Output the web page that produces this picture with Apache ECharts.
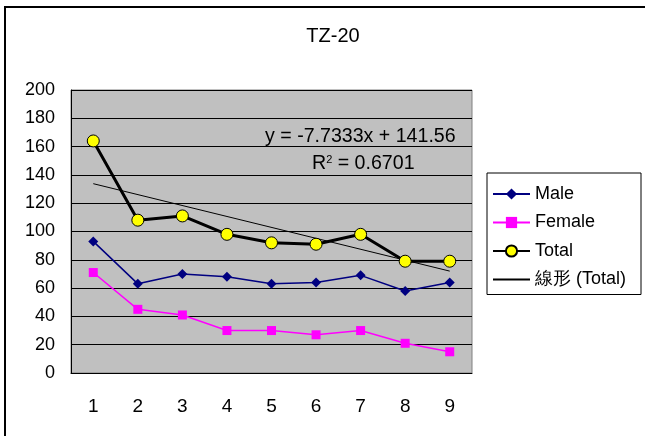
<!DOCTYPE html>
<html>
<head>
<meta charset="utf-8">
<script src="https://cdn.jsdelivr.net/npm/echarts@6/dist/echarts.min.js"></script>
<style>
  html, body { margin: 0; padding: 0; background: #fff; overflow: hidden; }
  #wrap { position: relative; width: 645px; height: 436px; overflow: hidden; }
  #frame { position: absolute; left: 4px; top: 6px; width: 700px; height: 500px; border: 2px solid #000; }
  #main { position: absolute; left: 0; top: 0; width: 645px; height: 436px; }
</style>
</head>
<body>
<div id="wrap">
  <div id="frame"></div>
  <div id="main"></div>
</div>
<script>
// values
const categories = ['1', '2', '3', '4', '5', '6', '7', '8', '9'];
const male = [93, 63, 70, 68, 63, 64, 69, 58, 64];
const female = [71, 45, 41, 30, 30, 27, 30, 21, 15];
const total = [164, 108, 111, 98, 92, 91, 98, 79, 79];
// trend line ends (x = 1 and x = 9)
const trendEnds = [133.8, 72.0];

const font = 'Liberation Sans, Arial, sans-serif';

var myChart = echarts.init(document.getElementById('main'));

var option = {
    animation: false,
    title: {
        text: 'TZ-20',
        left: 328,
        textAlign: 'center',
        top: 21,
        textStyle: { fontFamily: font, fontSize: 20, fontWeight: 'normal', color: '#000' }
    },
    grid: {
        left: 71,
        top: 90,
        right: 173,
        bottom: 63,
        show: true,
        backgroundColor: '#C0C0C0',
        borderColor: '#808080',
        borderWidth: 1
    },
    legend: {
        orient: 'vertical',
        left: 487,
        top: 173,
        data: ['Male', 'Female', 'Total', { name: '線形 (Total)', itemStyle: { opacity: 0 } }],
        backgroundColor: '#fff',
        borderColor: '#000',
        borderWidth: 1,
        padding: [12, 15, 6, 5],
        itemWidth: 37,
        itemHeight: 14,
        itemGap: 10.5,
        textStyle: { fontFamily: font, fontSize: 18, color: '#000' }
    },
    xAxis: {
        type: 'category',
        data: categories,
        boundaryGap: true,
        axisLine: { lineStyle: { color: '#000', width: 1 } },
        axisTick: { inside: true, length: 7, interval: 0, lineStyle: { color: '#000' } },
        axisLabel: { margin: 24, fontFamily: font, fontSize: 19, color: '#000' }
    },
    yAxis: {
        type: 'value',
        min: 0,
        max: 200,
        interval: 20,
        axisLine: { show: true, lineStyle: { color: '#000', width: 1 } },
        axisTick: { show: true, inside: true, length: 5, lineStyle: { color: '#000' } },
        axisLabel: { margin: 16, fontFamily: font, fontSize: 18, color: '#000' },
        splitLine: { lineStyle: { color: '#000', width: 1 } }
    },
    graphic: [{
        type: 'text',
        left: 265,
        top: 127,
        style: { text: 'y = -7.7333x + 141.56', font: '19.6px ' + font, fill: '#000' }
    }, {
        type: 'text',
        left: 312,
        top: 154,
        style: {
            text: '{r|R}{s|2}{r| = 0.6701}',
            rich: {
                r: { font: '19.6px ' + font, fill: '#000', verticalAlign: 'bottom' },
                s: { font: '11px ' + font, fill: '#000', verticalAlign: 'top', padding: [0, 0, 9, 0] }
            }
        }
    }],
    series: [{
        name: 'Male',
        type: 'line',
        data: male,
        symbol: 'diamond',
        symbolSize: 10,
        itemStyle: { color: '#000080' },
        lineStyle: { color: '#000080', width: 1.5 }
    }, {
        name: 'Female',
        type: 'line',
        data: female,
        symbol: 'rect',
        symbolSize: 9,
        itemStyle: { color: '#FF00FF' },
        lineStyle: { color: '#FF00FF', width: 1.5 }
    }, {
        name: '線形 (Total)',
        type: 'line',
        data: [[0, trendEnds[0]], [8, trendEnds[1]]],
        symbol: 'none',
        itemStyle: { color: '#000' },
        lineStyle: { color: '#000', width: 1 }
    }, {
        name: 'Total',
        type: 'line',
        data: total,
        symbol: 'circle',
        symbolSize: 12,
        itemStyle: { color: '#FFFF00', borderColor: '#000', borderWidth: 1 },
        lineStyle: { color: '#000', width: 3 }
    }]
};

myChart.setOption(option);
</script>
</body>
</html>
